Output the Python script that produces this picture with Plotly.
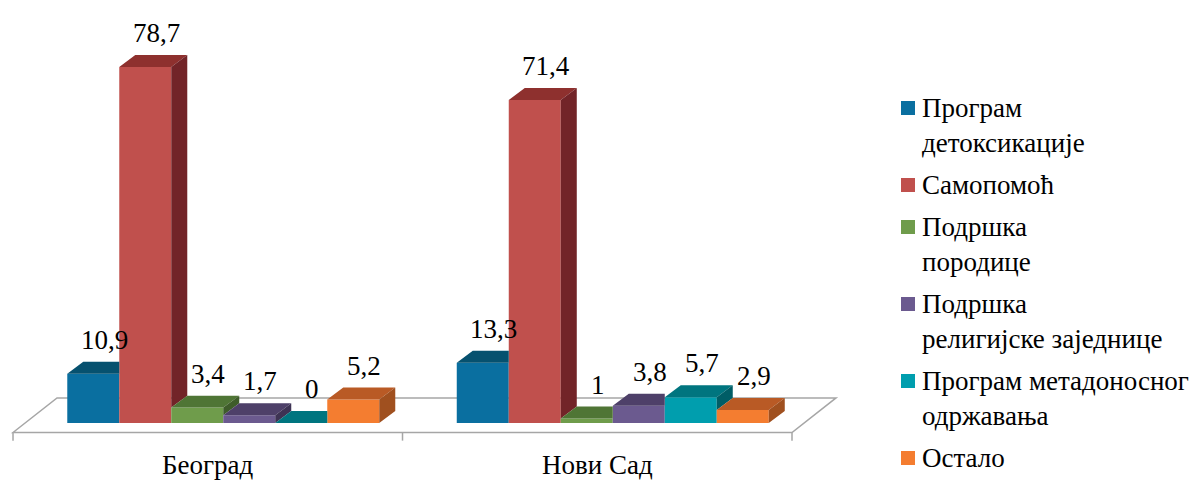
import plotly.graph_objects as go

# ---------------- data ----------------
categories = ["Београд", "Нови Сад"]
series_names = [
    "Програм<br>детоксикације",
    "Самопомоћ",
    "Подршка<br>породице",
    "Подршка<br>религијске заједнице",
    "Програм метадоносног<br>одржавања",
    "Остало",
]
beograd = [10.9, 78.7, 3.4, 1.7, 0, 5.2]
novi_sad = [13.3, 71.4, 1, 3.8, 5.7, 2.9]
values = [beograd, novi_sad]
labels_bg = ["10,9", "78,7", "3,4", "1,7", "0", "5,2"]
labels_ns = ["13,3", "71,4", "1", "3,8", "5,7", "2,9"]
labels = [labels_bg, labels_ns]

# ---------------- style ----------------
front_colors = ["#0a6fa0", "#c0504d", "#6f9c4b", "#6b5a8f", "#009eae", "#f47d30"]
top_colors = ["#06516f", "#8e302e", "#4f7535", "#4e4069", "#00757f", "#b95a25"]
side_colors = ["#043f58", "#722428", "#3e5c2a", "#3e3354", "#005d66", "#a0501f"]

FONT = "Liberation Serif, Tinos, Times New Roman, serif"
FS = 27
BAR_W = 0.1335
GROUP_START = -0.3607
DX = 0.0411
DY = 2.65
LABEL_LIFT = 7.5
FLOOR_FRONT = -2.1
FLOOR_BACK = 5.55
FLOOR_DX = 0.113
TICK_BOTTOM = -3.9

PLOT_W, PLOT_H = 850, 445
X_RANGE = [-0.5334, 1.6489]
Y_RANGE = [-4.863, 93.5]

LEG_MARK_X0, LEG_MARK_X1, LEG_TEXT_X = 901, 915, 920
LEG_FIRST, LINE_STEP, ENTRY_STEP, MARK_HALF = 108, 35, 42, 7
CAT_LABEL_Y = 465

fig = go.Figure()
n = len(series_names)

# front faces (real bars)
for j in range(n):
    xs, ys = [], []
    for i in range(len(categories)):
        x0 = i + GROUP_START + j * BAR_W
        xs.append(x0 + BAR_W / 2)
        ys.append(values[i][j])
    fig.add_trace(go.Bar(
        x=xs, y=ys, width=BAR_W, name=series_names[j].replace("<br>", " "),
        marker=dict(color=front_colors[j], line=dict(width=0)),
        hoverinfo="skip", showlegend=False,
    ))

# top and side faces computed from the values
for j in range(n):
    tx, ty, sx, sy = [], [], [], []
    for i in range(len(categories)):
        v = values[i][j]
        r = values[i][j + 1] if j + 1 < n else 0
        x0 = i + GROUP_START + j * BAR_W
        x1 = x0 + BAR_W
        if r > v:
            tx += [x0, x1, x1, x0 + DX, x0, None]
            ty += [v, v, v + DY, v + DY, v, None]
        else:
            tx += [x0, x1, x1 + DX, x0 + DX, x0, None]
            ty += [v, v, v + DY, v + DY, v, None]
        if v > r:
            sx += [x1, x1, x1 + DX, x1 + DX, x1, None]
            sy += [r, v, v + DY, r + DY, r, None]
    fig.add_trace(go.Scatter(x=tx, y=ty, fill="toself", mode="lines",
                             fillcolor=top_colors[j], line=dict(width=0),
                             showlegend=False, hoverinfo="skip"))
    if sx:
        fig.add_trace(go.Scatter(x=sx, y=sy, fill="toself", mode="lines",
                                 fillcolor=side_colors[j], line=dict(width=0),
                                 showlegend=False, hoverinfo="skip"))

annotations = []
tfont = dict(family=FONT, size=FS, color="black")

# value labels
for i in range(len(categories)):
    for j in range(n):
        x0 = i + GROUP_START + j * BAR_W
        annotations.append(dict(
            x=x0 + BAR_W / 2 + DX * 0.7, y=values[i][j] + LABEL_LIFT,
            xref="x", yref="y", text=labels[i][j], showarrow=False,
            xanchor="center", yanchor="middle", font=tfont))

# category labels
for i, c in enumerate(categories):
    annotations.append(dict(
        x=i, y=1 - CAT_LABEL_Y / PLOT_H, xref="x", yref="paper", text=c,
        showarrow=False, xanchor="center", yanchor="middle", font=tfont))

# floor (axis decoration)
x_left, x_right = -0.5, -0.5 + len(categories)
floor_path = (f"M {x_left},{FLOOR_FRONT} L {x_left + FLOOR_DX},{FLOOR_BACK} "
              f"L {x_right + FLOOR_DX},{FLOOR_BACK} L {x_right},{FLOOR_FRONT} Z")
shapes = [dict(type="path", path=floor_path, xref="x", yref="y", layer="below",
               line=dict(color="#a6a6a6", width=1.5))]
for k in range(len(categories) + 1):
    xb = x_left + k
    shapes.append(dict(type="line", xref="x", yref="y", x0=xb, x1=xb,
                       y0=FLOOR_FRONT, y1=TICK_BOTTOM, layer="below",
                       line=dict(color="#a6a6a6", width=1.5)))

# legend (markers + text)
py = LEG_FIRST
for j, name in enumerate(series_names):
    lines = name.split("<br>")
    shapes.append(dict(type="rect", xref="paper", yref="paper",
                       x0=LEG_MARK_X0 / PLOT_W, x1=LEG_MARK_X1 / PLOT_W,
                       y0=1 - (py + MARK_HALF) / PLOT_H, y1=1 - (py - MARK_HALF) / PLOT_H,
                       fillcolor=front_colors[j], line=dict(width=0)))
    for k, line in enumerate(lines):
        annotations.append(dict(
            x=LEG_TEXT_X / PLOT_W, y=1 - (py + k * LINE_STEP) / PLOT_H,
            xref="paper", yref="paper", text=line, showarrow=False,
            xanchor="left", yanchor="middle", font=tfont))
    py += (len(lines) - 1) * LINE_STEP + ENTRY_STEP

fig.update_layout(
    width=1202, height=491,
    font=dict(family=FONT, size=FS, color="black"),
    margin=dict(l=0, r=1202 - PLOT_W, t=0, b=491 - PLOT_H, autoexpand=False),
    paper_bgcolor="white", plot_bgcolor="white",
    barmode="overlay",
    shapes=shapes,
    annotations=annotations,
    showlegend=False,
    xaxis=dict(range=X_RANGE, showgrid=False, zeroline=False, showline=False,
               ticks="", showticklabels=False),
    yaxis=dict(range=Y_RANGE, visible=False, showgrid=False, zeroline=False),
)

post = """
var gd = document.getElementById('{plot_id}');
if (document.fonts && document.fonts.load) {
  document.fonts.load('27px "Liberation Serif"', 'Београд 78,7').then(function () {
    Plotly.redraw(gd);
  }).catch(function () {});
}
"""

fig.write_html("out.html", post_script=post)
